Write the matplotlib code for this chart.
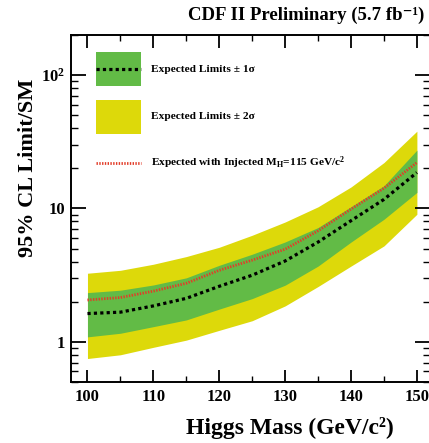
import numpy as np
import matplotlib
matplotlib.use("Agg")
import matplotlib.pyplot as plt
from matplotlib.patches import Rectangle
from matplotlib.lines import Line2D

plt.rcParams["font.family"] = ["Liberation Serif", "DejaVu Serif"]
plt.rcParams["font.weight"] = "bold"
plt.rcParams["mathtext.fontset"] = "custom"
plt.rcParams["mathtext.rm"] = "Liberation Serif:bold"
plt.rcParams["mathtext.it"] = "Liberation Serif:bold:italic"
plt.rcParams["mathtext.bf"] = "Liberation Serif:bold"

# values
mass = [100, 105, 110, 115, 120, 125, 130, 135, 140, 145, 150]
exp_median = [1.63, 1.67, 1.86, 2.12, 2.61, 3.16, 4.04, 5.6, 8.1, 11.7, 18.6]
exp_injected = [2.06, 2.15, 2.4, 2.75, 3.44, 4.1, 4.95, 6.8, 9.9, 14.2, 22.1]
one_sig_lo = [1.09, 1.16, 1.30, 1.46, 1.76, 2.11, 2.66, 3.7, 5.6, 8.3, 13.2]
one_sig_hi = [2.34, 2.44, 2.67, 3.02, 3.75, 4.54, 5.61, 7.2, 10.3, 14.8, 27.4]
two_sig_lo = [0.75, 0.80, 0.91, 1.03, 1.22, 1.44, 1.86, 2.6, 3.7, 5.24, 9.05]
two_sig_hi = [3.27, 3.44, 3.82, 4.36, 5.12, 6.3, 7.92, 10.3, 14.5, 22.1, 38.0]

x_ticks = [100, 110, 120, 130, 140, 150]
y_ticks = [1, 10, 100]
y_tick_labels = ["1", "10", r"$10^{2}$"]

GREEN = "#62bb46"
YELLOW = "#ddd90a"
RED = "#e23c28"

fig = plt.figure(figsize=(4.29, 4.43), dpi=100)
ax = fig.add_axes([0.1655, 0.1377, 0.837, 0.7833])

ax.fill_between(mass, two_sig_lo, two_sig_hi, color=YELLOW, lw=0)
ax.fill_between(mass, one_sig_lo, one_sig_hi, color=GREEN, lw=0)
ax.plot(mass, exp_injected, color=RED, lw=2.0, dashes=(0.5, 0.5),
        dash_capstyle="butt")
ax.plot(mass, exp_median, color="black", lw=2.3, dashes=(1, 1),
        dash_capstyle="butt")

ax.set_yscale("log")
ax.set_xlim(97.5, 152)
ax.set_ylim(0.5, 200)
ax.set_xticks(x_ticks)
ax.set_xticks(np.arange(105, 151, 10), minor=True)
ax.set_yticks(y_ticks)
ax.set_yticklabels(y_tick_labels)
ax.tick_params(axis="both", which="major", labelsize=12, width=1.3)
ax.tick_params(axis="x", which="major", direction="in", length=9,
               top=True, pad=5)
ax.tick_params(axis="x", which="minor", direction="in", length=4, top=True,
               width=1.0)
ax.tick_params(axis="y", which="major", direction="in", length=11, right=True,
               pad=4)
ax.tick_params(axis="y", which="minor", direction="in", length=5, right=True,
               width=1.0)
for s in ax.spines.values():
    s.set_linewidth(1.4)

# legend drawn by hand
ax.add_patch(Rectangle((0.07, 0.853), 0.125, 0.098, transform=ax.transAxes,
                       color=GREEN, lw=0))
ax.add_line(Line2D([0.07, 0.195], [0.902, 0.902], transform=ax.transAxes,
                   color="black", lw=2.3, dashes=(1, 1), dash_capstyle="butt"))
ax.add_patch(Rectangle((0.07, 0.715), 0.125, 0.098, transform=ax.transAxes,
                       color=YELLOW, lw=0))
ax.add_line(Line2D([0.07, 0.195], [0.631, 0.631], transform=ax.transAxes,
                   color=RED, lw=2.0, dashes=(0.5, 0.5), dash_capstyle="butt"))
ax.text(0.223, 0.902, "Expected Limits ± 1σ", transform=ax.transAxes,
        fontsize=8.2, va="center")
ax.text(0.223, 0.764, "Expected Limits ± 2σ", transform=ax.transAxes,
        fontsize=8.2, va="center")
ax.text(0.223, 0.631, r"Expected with Injected M$_{\rm H}$=115 GeV/c$^{2}$",
        transform=ax.transAxes, fontsize=8.2, va="center")

fig.text(0.99, 0.966, "CDF II Preliminary (5.7 fb⁻¹)", ha="right",
         va="center", fontsize=13.5)
fig.text(0.676, 0.034, "Higgs Mass (GeV/c²)", ha="center",
         va="center", fontsize=17)
fig.text(0.065, 0.62, "95% CL Limit/SM", ha="center", va="center",
         rotation=90, fontsize=16)

fig.savefig("out.png", dpi=100)
